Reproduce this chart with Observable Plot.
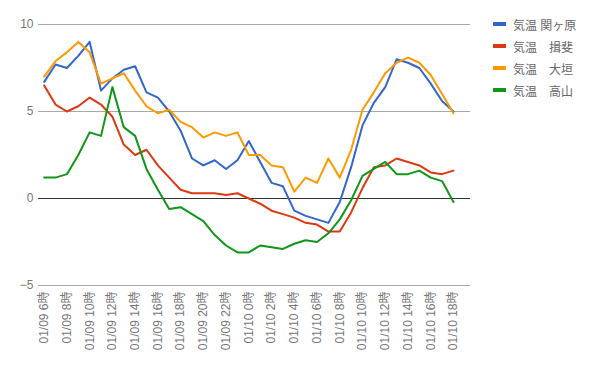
<!DOCTYPE html>
<html>
<head>
<meta charset="utf-8">
<script src="https://cdn.jsdelivr.net/npm/d3@7"></script>
<script src="https://cdn.jsdelivr.net/npm/@observablehq/plot@0.6"></script>
<style>
  body { margin: 0; background: #fff; }
  #wrap { position: relative; width: 589px; height: 366px; font-family: "Liberation Sans", Arial, "Noto Sans CJK JP", sans-serif; }
  .leg { position: absolute; left: 493px; height: 14px; display: flex; align-items: center; font-size: 12px; color: #666; white-space: pre; }
  .sw { width: 13px; height: 4px; margin-right: 7px; }
</style>
</head>
<body>
<div id="wrap"></div>
<script>
const times = [
  "01/09 6時","01/09 7時","01/09 8時","01/09 9時","01/09 10時","01/09 11時","01/09 12時","01/09 13時",
  "01/09 14時","01/09 15時","01/09 16時","01/09 17時","01/09 18時","01/09 19時","01/09 20時","01/09 21時",
  "01/09 22時","01/09 23時","01/10 0時","01/10 1時","01/10 2時","01/10 3時","01/10 4時","01/10 5時",
  "01/10 6時","01/10 7時","01/10 8時","01/10 9時","01/10 10時","01/10 11時","01/10 12時","01/10 13時",
  "01/10 14時","01/10 15時","01/10 16時","01/10 17時","01/10 18時"
];
const seriesNames = ["気温 関ヶ原", "気温　揖斐", "気温　大垣", "気温　高山"];
const colors = ["#3366cc", "#dc3912", "#ff9900", "#109618"];

const sekigahara = [6.7,7.7,7.5,8.2,9.0,6.2,6.9,7.4,7.6,6.1,5.8,5.0,3.9,2.3,1.9,2.2,1.7,2.2,3.3,2.1,0.9,0.7,-0.7,-1.0,-1.2,-1.4,-0.2,1.8,4.2,5.5,6.4,8.0,7.8,7.5,6.6,5.6,5.0];
const ibi        = [6.5,5.4,5.0,5.3,5.8,5.4,4.7,3.1,2.5,2.8,1.9,1.2,0.5,0.3,0.3,0.3,0.2,0.3,0.0,-0.3,-0.7,-0.9,-1.1,-1.4,-1.5,-1.9,-1.9,-0.8,0.6,1.8,1.9,2.3,2.1,1.9,1.5,1.4,1.6];
const ogaki      = [7.0,7.9,8.4,9.0,8.4,6.6,6.9,7.2,6.2,5.3,4.9,5.1,4.4,4.1,3.5,3.8,3.6,3.8,2.5,2.5,1.9,1.8,0.4,1.2,0.9,2.3,1.2,2.8,5.1,6.1,7.2,7.8,8.1,7.8,7.1,6.0,4.9];
const takayama   = [1.2,1.2,1.4,2.5,3.8,3.6,6.4,4.1,3.6,1.7,0.5,-0.6,-0.5,-0.9,-1.3,-2.1,-2.7,-3.1,-3.1,-2.7,-2.8,-2.9,-2.6,-2.4,-2.5,-2.0,-1.2,-0.1,1.3,1.7,2.1,1.4,1.4,1.6,1.2,1.0,-0.2];
const allSeries = [sekigahara, ibi, ogaki, takayama];

const yTicks = [-5, 0, 5, 10];
const xTickIdx = times.map((t, i) => i).filter(i => i % 2 === 0);

const font = "\"Liberation Sans\", Arial, \"Noto Sans CJK JP\", sans-serif";

const chart = Plot.plot({
  width: 589,
  height: 366,
  marginLeft: 38,
  marginRight: 119,
  marginTop: 24,
  marginBottom: 81,
  style: { fontFamily: font, fontSize: "12px", color: "#777", background: "#fff" },
  x: { domain: [-0.5, 37.5] },
  y: { domain: [-5, 10] },
  marks: [
    Plot.ruleY(yTicks.filter(v => v !== 0), { stroke: "#aaa", strokeWidth: 1 }),
    Plot.ruleY([0], { stroke: "#333", strokeWidth: 1 }),
    ...allSeries.map((s, k) =>
      Plot.line(s, { x: (d, i) => i, y: d => d, stroke: colors[k], strokeWidth: 2 })
    ),
    Plot.axisY({ ticks: yTicks, tickSize: 0, tickPadding: 5, label: null, fill: "#777", fontSize: 12 }),
    Plot.axisX({ ticks: xTickIdx, tickFormat: i => times[i], tickRotate: -90, tickSize: 0, tickPadding: 6, label: null, fill: "#777", fontSize: 12 })
  ]
});

const wrap = document.getElementById("wrap");
wrap.appendChild(chart);

seriesNames.forEach((name, k) => {
  const row = document.createElement("div");
  row.className = "leg";
  row.style.top = (17 + 22 * k) + "px";
  const sw = document.createElement("div");
  sw.className = "sw";
  sw.style.background = colors[k];
  const tx = document.createElement("span");
  tx.textContent = name;
  row.appendChild(sw);
  row.appendChild(tx);
  wrap.appendChild(row);
});
</script>
</body>
</html>
